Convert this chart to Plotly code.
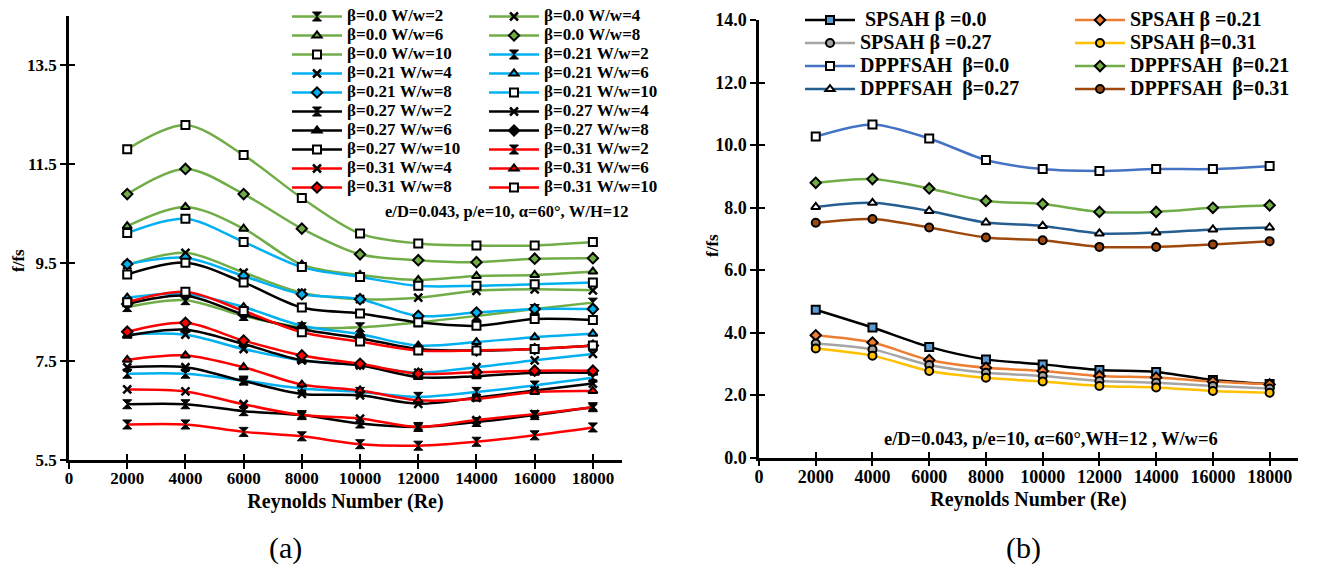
import plotly.graph_objects as go

# ---------------- data ----------------
re_vals = [2000, 4000, 6000, 8000, 10000, 12000, 14000, 16000, 18000]
x_ticks = [0, 2000, 4000, 6000, 8000, 10000, 12000, 14000, 16000, 18000]
left_yticks = [5.5, 7.5, 9.5, 11.5, 13.5]
right_yticks = [0, 2, 4, 6, 8, 10, 12, 14]

# panel (a): beta / W/w families
g2 = [8.60, 8.74, 8.42, 8.19, 8.19, 8.29, 8.42, 8.56, 8.69]
g4 = [9.45, 9.70, 9.30, 8.89, 8.76, 8.79, 8.93, 8.96, 8.94]
g6 = [10.24, 10.63, 10.19, 9.46, 9.25, 9.15, 9.23, 9.25, 9.32]
g8 = [10.89, 11.40, 10.89, 10.19, 9.67, 9.55, 9.51, 9.58, 9.59]
g10 = [11.80, 12.29, 11.68, 10.81, 10.09, 9.89, 9.85, 9.85, 9.92]

b2 = [7.25, 7.25, 7.11, 6.95, 6.88, 6.78, 6.88, 7.01, 7.17]
b4 = [8.05, 8.04, 7.75, 7.52, 7.42, 7.27, 7.38, 7.52, 7.65]
b6 = [8.79, 8.87, 8.60, 8.22, 8.05, 7.82, 7.89, 7.99, 8.06]
b8 = [9.47, 9.60, 9.23, 8.86, 8.76, 8.42, 8.49, 8.56, 8.56]
b10 = [10.10, 10.39, 9.92, 9.41, 9.21, 9.03, 9.03, 9.06, 9.10]

k2 = [6.63, 6.63, 6.49, 6.41, 6.24, 6.17, 6.27, 6.41, 6.57]
k4 = [7.38, 7.38, 7.10, 6.84, 6.81, 6.64, 6.76, 6.91, 7.05]
k6 = [8.02, 8.14, 7.85, 7.52, 7.42, 7.18, 7.20, 7.27, 7.27]
k8 = [8.66, 8.83, 8.45, 8.15, 7.97, 7.75, 7.72, 7.75, 7.82]
k10 = [9.26, 9.50, 9.10, 8.59, 8.47, 8.29, 8.22, 8.36, 8.34]

r2 = [6.22, 6.22, 6.07, 5.98, 5.82, 5.79, 5.87, 6.00, 6.16]
r4 = [6.93, 6.89, 6.63, 6.41, 6.34, 6.17, 6.31, 6.43, 6.57]
r6 = [7.53, 7.62, 7.38, 7.03, 6.91, 6.71, 6.74, 6.88, 6.90]
r8 = [8.10, 8.28, 7.92, 7.62, 7.45, 7.25, 7.28, 7.31, 7.31]
r10 = [8.70, 8.91, 8.52, 8.09, 7.90, 7.72, 7.72, 7.75, 7.82]

left_names = [
    "β=0.0 W/w=2", "β=0.0 W/w=4", "β=0.0 W/w=6", "β=0.0 W/w=8", "β=0.0 W/w=10",
    "β=0.21 W/w=2", "β=0.21 W/w=4", "β=0.21 W/w=6", "β=0.21 W/w=8", "β=0.21 W/w=10",
    "β=0.27 W/w=2", "β=0.27 W/w=4", "β=0.27 W/w=6", "β=0.27 W/w=8", "β=0.27 W/w=10",
    "β=0.31 W/w=2", "β=0.31 W/w=4", "β=0.31 W/w=6", "β=0.31 W/w=8", "β=0.31 W/w=10",
]
left_series = [g2, g4, g6, g8, g10, b2, b4, b6, b8, b10,
               k2, k4, k6, k8, k10, r2, r4, r6, r8, r10]

# panel (b)
sp0 = [4.73, 4.16, 3.54, 3.14, 2.98, 2.80, 2.74, 2.48, 2.35]
sp21 = [3.91, 3.68, 3.12, 2.87, 2.77, 2.61, 2.56, 2.43, 2.34]
sp27 = [3.65, 3.46, 2.96, 2.71, 2.61, 2.45, 2.39, 2.29, 2.21]
sp31 = [3.49, 3.26, 2.77, 2.55, 2.43, 2.29, 2.24, 2.13, 2.07]
dp0 = [10.27, 10.66, 10.21, 9.52, 9.23, 9.17, 9.23, 9.23, 9.33]
dp21 = [8.79, 8.91, 8.61, 8.21, 8.11, 7.86, 7.86, 7.99, 8.07]
dp27 = [8.02, 8.15, 7.89, 7.52, 7.41, 7.17, 7.20, 7.30, 7.36]
dp31 = [7.51, 7.63, 7.36, 7.04, 6.95, 6.74, 6.74, 6.82, 6.92]

right_names = ["\u00a0SPSAH β =0.0", "SPSAH β =0.21", "SPSAH β =0.27", "SPSAH β=0.31",
               "DPPFSAH \u00a0β=0.0", "DPPFSAH \u00a0β=0.21", "DPPFSAH \u00a0β=0.27",
               "DPPFSAH \u00a0β=0.31"]
right_series = [sp0, sp21, sp27, sp31, dp0, dp21, dp27, dp31]

# ---------------- styles ----------------
FONT = "Liberation Serif"
family_colors = ["#70AD47", "#00B0F0", "#000000", "#FF0000"]
ww_symbols = ["hourglass", "x-thin", "triangle-up", "diamond", "square"]

right_line_colors = ["#000000", "#ED7D31", "#A5A5A5", "#FFC000",
                     "#4472C4", "#70AD47", "#255E91", "#9E480E"]
right_symbols = ["square", "diamond", "circle", "circle",
                 "square", "diamond", "triangle-up", "circle"]
right_fill = ["#5B9BD5", "#ED7D31", "#A5A5A5", "#FFC000",
              "#FFFFFF", "#70AD47", "#FFFFFF", "#9E480E"]

fig = go.Figure()

for i, (name, ys) in enumerate(zip(left_names, left_series)):
    col = family_colors[i // 5]
    sym = ww_symbols[i % 5]
    if sym == "x-thin":
        marker = dict(symbol=sym, size=8, line=dict(color="black", width=2.5))
    elif sym == "hourglass":
        marker = dict(symbol=sym, size=9, color="black", line=dict(color="black", width=1))
    elif sym == "square":
        marker = dict(symbol=sym, size=8, color="white", line=dict(color="black", width=2))
    else:
        marker = dict(symbol=sym, size=8, color=col, line=dict(color="black", width=2))
    fig.add_trace(go.Scatter(
        x=re_vals, y=ys, mode="lines+markers",
        name='<span style="font-size:17px">' + name + '</span>',
        line=dict(color=col, width=2.5, shape="spline", smoothing=0.9),
        marker=marker, xaxis="x", yaxis="y",
        legend="legend" if i % 2 == 0 else "legend2",
    ))

for i, (name, ys) in enumerate(zip(right_names, right_series)):
    fig.add_trace(go.Scatter(
        x=re_vals, y=ys, mode="lines+markers",
        name='<span style="font-size:20px">' + name + '</span>',
        line=dict(color=right_line_colors[i], width=2.5, shape="spline", smoothing=0.8),
        marker=dict(symbol=right_symbols[i], size=8, color=right_fill[i],
                    line=dict(color="black", width=2)),
        xaxis="x2", yaxis="y2",
        legend="legend3" if i % 2 == 0 else "legend4",
    ))

# empty helper traces so the overlay axes (inner half of crossing ticks) render
for xa, ya in [("x3", "y"), ("x", "y3"), ("x4", "y2"), ("x2", "y4")]:
    fig.add_trace(go.Scatter(x=[], y=[], xaxis=xa, yaxis=ya, showlegend=False,
                             hoverinfo="skip"))

W, H = 1320, 569
L_dom_x = [69 / W, 622 / W]
L_dom_y = [(H - 460) / H, (H - 16) / H]
R_dom_x = [759 / W, 1298 / W]
R_dom_y = [(H - 457.5) / H, (H - 20) / H]

tickfont_l = dict(family=FONT, size=17, color="black", weight="bold")
tickfont_r = dict(family=FONT, size=18, color="black", weight="bold")
titlefont = dict(family=FONT, size=20, color="black", weight="bold")

common = dict(showgrid=False, zeroline=False, showline=True, linecolor="black",
              linewidth=2.5, ticks="outside", ticklen=6, tickwidth=2, tickcolor="black")
inner = dict(showgrid=False, zeroline=False, showline=False, ticks="inside",
             ticklen=6, tickwidth=2, tickcolor="black", showticklabels=False)

fig.update_layout(
    width=W, height=H,
    margin=dict(l=0, r=0, t=0, b=0, autoexpand=False),
    paper_bgcolor="white", plot_bgcolor="white",
    xaxis=dict(domain=L_dom_x, anchor="y", range=[0, 19000], tickvals=x_ticks,
               tickformat="d", tickfont=tickfont_l, ticklabelstandoff=-5,
               title=dict(text="Reynolds Number (Re)", font=titlefont, standoff=7),
               **common),
    yaxis=dict(domain=L_dom_y, anchor="x", range=[5.5, 14.5], tickvals=left_yticks,
               tickformat=".1f", tickfont=tickfont_l, **common),
    xaxis2=dict(domain=R_dom_x, anchor="y2", range=[0, 19000], tickvals=x_ticks,
                tickformat="d", tickfont=tickfont_r, ticklabelstandoff=-5,
                title=dict(text="Reynolds Number (Re)", font=titlefont, standoff=7),
                **common),
    yaxis2=dict(domain=R_dom_y, anchor="x2", range=[0, 14], tickvals=right_yticks,
                tickformat=".1f", tickfont=tickfont_r, **common),
    xaxis3=dict(overlaying="x", anchor="y", range=[0, 19000], tickvals=x_ticks, **inner),
    yaxis3=dict(overlaying="y", anchor="x", range=[5.5, 14.5], tickvals=left_yticks,
                side="left", **inner),
    xaxis4=dict(overlaying="x2", anchor="y2", range=[0, 19000], tickvals=x_ticks, **inner),
    yaxis4=dict(overlaying="y2", anchor="x2", range=[0, 14], tickvals=right_yticks,
                side="left", **inner),
    legend=dict(x=287 / W, y=1 - 2 / H, xanchor="left", yanchor="top",
                bgcolor="rgba(0,0,0,0)", itemwidth=50,
                font=dict(family=FONT, size=11.2, color="black", weight="bold")),
    legend2=dict(x=484 / W, y=1 - 2 / H, xanchor="left", yanchor="top",
                 bgcolor="rgba(0,0,0,0)", itemwidth=50,
                 font=dict(family=FONT, size=11.2, color="black", weight="bold")),
    legend3=dict(x=800 / W, y=1 - 3.5 / H, xanchor="left", yanchor="top",
                 bgcolor="rgba(0,0,0,0)", itemwidth=50,
                 font=dict(family=FONT, size=15.4, color="black", weight="bold")),
    legend4=dict(x=1070 / W, y=1 - 3.5 / H, xanchor="left", yanchor="top",
                 bgcolor="rgba(0,0,0,0)", itemwidth=50,
                 font=dict(family=FONT, size=15.4, color="black", weight="bold")),
    annotations=[
        dict(text="f/fs", xref="paper", yref="paper", x=18 / W, y=1 - 261 / H,
             xanchor="center", yanchor="middle", showarrow=False, textangle=-90,
             font=dict(family=FONT, size=17, color="black", weight="bold")),
        dict(text="f/fs", xref="paper", yref="paper", x=712 / W, y=1 - 246 / H,
             xanchor="center", yanchor="middle", showarrow=False, textangle=-90,
             font=dict(family=FONT, size=17, color="black", weight="bold")),
        dict(text="e/D=0.043, p/e=10, α=60°, W/H=12", xref="paper", yref="paper",
             x=383 / W, y=1 - 211 / H, xanchor="left", yanchor="middle", showarrow=False,
             font=dict(family=FONT, size=16.5, color="black", weight="bold")),
        dict(text="e/D=0.043, p/e=10, α=60°,WH=12 , W/w=6", xref="paper", yref="paper",
             x=882 / W, y=1 - 439 / H, xanchor="left", yanchor="middle", showarrow=False,
             font=dict(family=FONT, size=18.5, color="black", weight="bold")),
        dict(text="(a)", xref="paper", yref="paper", x=285 / W, y=1 - 548 / H,
             xanchor="center", yanchor="middle", showarrow=False,
             font=dict(family=FONT, size=30, color="black")),
        dict(text="(b)", xref="paper", yref="paper", x=1023 / W, y=1 - 548 / H,
             xanchor="center", yanchor="middle", showarrow=False,
             font=dict(family=FONT, size=30, color="black")),
    ],
)

fig.write_html("out.html")
